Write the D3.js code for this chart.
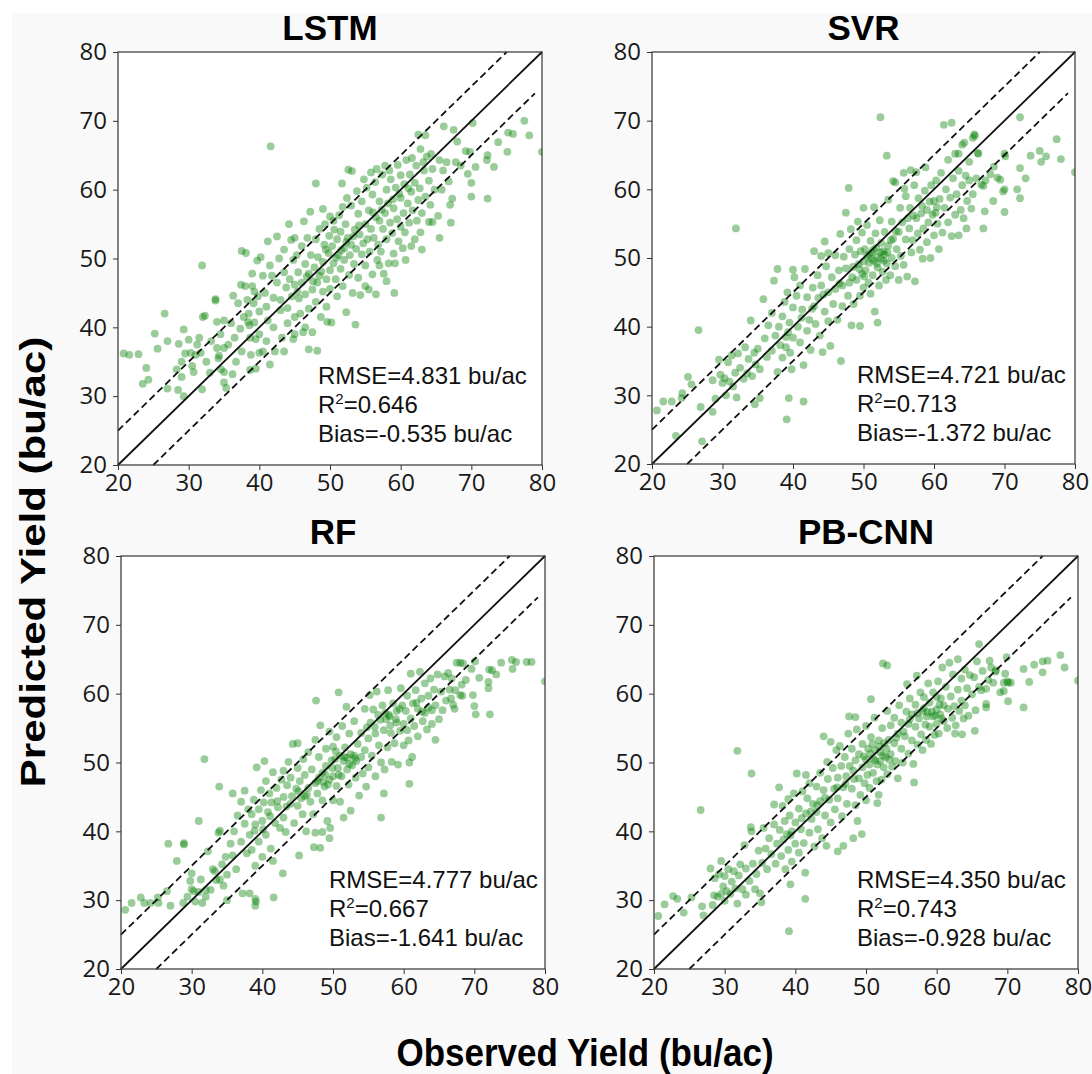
<!DOCTYPE html>
<html>
<head>
<meta charset="utf-8">
<script src="https://cdn.jsdelivr.net/npm/d3@7"></script>
<style>
body { margin: 0; background: #fff; }
</style>
</head>
<body>
<script>
var w = 1092;
var h = 1074;

// observed, predicted (bu/ac)
var lstmPoints = [
  [20.8,36.2],[21.6,36],[22.9,36.1],[24,34.1],[24.3,32.4],[23.5,31.8],[25.2,39.1],[25.6,36.9],[26.6,42],[27,38],[27,31.1],[28.5,30.9],[29.3,30],[28.3,33.9],[28.6,37.6],[29.3,39.7],[29.5,36.2],[29,35],[30,38.2],[30.3,36.3],[30.7,33.5],[31,36],[30.5,34.4],[29,32.8],[31.9,49],[31.9,31],
  [31.2,37.5],[31.5,38.5],[31.7,36.3],[32,41.5],[32.3,41.7],[32.5,35],[33,33.4],[33.2,38],[33.8,44.1],[33.8,43.9],[34,40.8],[34,37],[34.2,35.5],[34.3,35.9],[34.5,39],[35,41],[35,37],[35,33.5],[35,32],[35.3,31.2],[35.6,37.5],[34.6,33.9],
  [36,40.6],[36.5,38.5],[36.7,35],[37,43.5],[37.3,39.8],[37.5,51.1],[37.8,41.5],[38,46],[38.3,44],[38.5,42],[38.6,40.3],[38.7,38.5],[38.8,36],[39,47.8],[39,46],[39.2,43.5],[39.3,40.7],[39.5,38.3],[39.5,34],[39.8,44.5],[40,42.3],[40,39],[40,36.3],[39.3,45.2],[38.4,40.8],[37.5,36.5],
  [40.2,50.2],[40.5,47.5],[40.8,45],[41,43],[41,38],[41.2,41],[41.5,49],[41.6,66.3],[41.8,47.5],[42,44.3],[42,40],[42.2,36.5],[42.5,46.5],[42.8,50],[43,42.5],[43,44],[43.2,38.5],[43.5,48],[43.5,51.3],[43.5,36.5],[43.8,45.8],[44,40.6],[44,42.8],[44.3,47],[44.5,52.7],[44.6,44.5],[44.8,49.8],[45,53],[45,46.2],[45,41.5],[45,39],
  [45.3,50.5],[45.5,48],[45.6,44.2],[45.8,42],[46,51.8],[46,46.5],[46.2,39.3],[46.5,49.2],[46.5,44.8],[46.8,53],[47,47.8],[47,42.7],[47.3,50.5],[47.5,45.5],[47.5,39.3],[47.8,48.7],[48,52.8],[48,43.7],[48,60.9],[48.2,36.6],[48.2,46.5],[48.3,50.2],[48.5,54.3],[48.5,47.5],[48.7,41.5],[49,49.5],[49,45.2],[49.2,52],[49.3,55],[49.5,47],[49.5,43],[49.6,40.8],[49.8,50.8],[49.9,53.3],[50,48.3],[50,45.6],[50,56.1],[50.2,40.7],
  [50.3,51.8],[50.5,49.3],[50.6,54.2],[50.8,47],[51,52.8],[51,44.5],[51.2,50.5],[51.3,56.3],[51.5,48.5],[51.5,53.9],[51.7,60.9],[51.8,46],[52,51.5],[52,49.8],[52.2,55],[52.3,42.2],[52.5,53],[52.6,62.9],[52.7,47.6],[52.8,50.5],[53,52],[53,57.7],[53.1,62.7],[53.2,45],[53.4,49.2],[53.5,54.2],[53.6,40.4],[53.7,51.4],[54,47.2],[54,56.5],[54.2,53.5],[54.3,44.7],[54.5,50.6],[54.5,58.3],[54.7,52.2],[55,49],[55,55],[55,46],[55.2,60.3],[55.3,52.8],
  [55.5,57],[55.6,51],[55.8,54.3],[56,47.7],[56,59.3],[56.2,53],[56.4,61.1],[56.5,56],[56.7,49.8],[56.8,52],[57,55.5],[57,58.3],[57.2,51],[57.4,62.2],[57.5,54.3],[57.6,47.8],[57.8,56.6],[58,60],[58,52.8],[58.2,58],[58.3,49.3],[58.5,55.2],[58.6,61.5],[58.8,53.7],[59,57.3],[59,50.7],[59.1,45],[59.2,49.3],[59.3,60.3],[59.5,55.7],[59.7,52.5],[60,58.8],[60,62.1],[60,54.6],
  [60.3,51.5],[60.4,56.6],[60.5,60.8],[60.6,53.8],[60.8,64.3],[61,58],[61.2,55.2],[61.3,62.2],[61.5,59.7],[61.7,57],[62,52.8],[62,61],[62.2,63.5],[62.3,55.5],[62.5,58.5],[62.5,68],[62.7,60.2],[63,51.3],[63,56.6],[63.3,62.8],[63.5,59],[63.5,67.9],[63.7,64.8],[64,61.3],[64,55.3],[64.2,57.8],[64.5,63],[64.5,55.3],[64.8,60],
  [65.3,56.2],[65.5,53],[65.5,64.3],[65.8,60],[66,62.8],[66.1,69.2],[66.5,64],[66.8,61.2],[67.1,55.2],[67,57.8],[67.3,58.7],[67.5,68.7],[67.8,64],[68,67],[68.5,63.5],[69.2,65.6],[69.5,62.3],[69.8,65.5],[70,59],[70,61],[70.2,69.7],[70.6,63.3],
  [72.2,64.3],[72.3,65],[72.3,58.7],[73.2,63.3],[73.8,66.9],[75.1,65.5],[75.2,68.3],[75.9,68.1],[77.5,70],[78.2,67.9],[80,65.5],
  [50.5,55.5],[51.8,57.5],[52.4,58.8],[53.8,59.8],[54.8,61.5],[55.8,62.5],[56.6,63],[57.8,63.5],[58.4,62.8],[59.6,63.6],[61.6,64.6],[62.8,65.9],[63.2,64],[64.3,65.2],[55.5,45.5],[56.5,44.8],[57,49],[58,46.7],[60.7,49.8],[61.5,51.8],[62.8,53.8],[49,57.2],[47.2,56.8],[46.3,55.4],[44.2,55],[42.5,53.2],[41.2,52.5],[39.7,49.7],[37.4,46.2],[36.3,44.6],[38.1,50.8],[40.5,36.5],[41.5,34.6],[38.7,33.8],[36.2,33.2],[44.8,38.3],[46.5,40],[47,36.8],
  [50.9,50.1],[51.6,51.2],[52.3,52.4],[53.3,53.2],[54.1,54.8],[56.1,56.7],[57.3,57.1],[58.9,58.6],[59.8,59.4],[61.1,60.2],[49.4,51.3],[48.8,48.1],[47.6,46.7],[46.7,47.4],[45.4,45.2]
];

var svrPoints = [
  [52.4,70.5],[31.9,54.3],[26.6,39.5],[27.1,23.3],[23.4,24.1],[20.7,27.8],[21.6,29.1],[22.8,29.1],[24.2,29.6],[24.3,30.3],[25.1,32.7],[25.6,31.6],[26.9,28.3],[28.6,27.6],[39.1,26.5],[39.4,29.6],[41.5,29.1],[35.3,29.6],[34.6,28.7],[47.9,60.2],[53.3,64.9],[46.8,35],[49.5,40.1],[52,40.6],[51.6,42.2],[61.4,69.4],[62.5,69.7],[72.2,70.5],[77.4,67.3],[78,64.4],[80,62.5],[75,65.6],[75.2,64],[75.9,64.8],[73.7,64.9],[72.2,63.1],[73,61.6],[71.8,60],[72.2,58.7],[70,56.7],[68.4,58.3],[70,60],[69.4,61.4],[70.1,64.8],[67,54.3],[67.2,56.8],[64.6,54.3],[54.2,61.2],[55.7,62.4],[56.7,62.8],[57.5,62.5],[58.8,63.2],[55.8,60.1],
  [28.6,32.2],[29,29.5],[29.5,35.2],[29.7,33],[30,31.8],[30.3,32.5],[30.5,30],[30.8,34.8],[31,32],[31.3,35.8],[31.5,31.3],[31.8,33.3],[32,29.7],[32.2,36.1],[32.5,34],[33,32.4],[33.2,37],[33.5,33.2],[33.7,35.3],[34,40.9],[34.2,32.8],[34.5,36.2],[34.7,34.5],[35,36.8],[35.3,33.8],
  [35.8,44],[36,38.3],[36.3,35.6],[36.5,40.2],[37,42],[37,36.5],[37.3,46.7],[37.5,38.7],[37.8,33.4],[37.8,48.4],[38,40],[38.2,37.3],[38.5,41.5],[38.5,35.5],[38.8,43.6],[39,38.5],[39,37],[39.2,45],[39.5,40.6],[39.6,36.2],[40,42.8],[40,38.4],[40,48.3],[40.2,47.2],[39.8,33.8],
  [40.5,44.5],[40.7,40],[41,46],[41,37.7],[41.3,42.5],[41.5,34.4],[41.7,48.4],[42,44.3],[42,39.4],[42.3,41],[42.5,36.6],[42.8,45.7],[43,51],[43,43],[43.2,40.4],[43.5,47.5],[43.6,44.2],[43.8,38.7],[44,50.3],[44,46],[44.2,36.3],[44.5,52.4],[44.5,42.2],[44.7,48.8],[45,45],[45,40.8],[45.3,37.2],[45,50.7],
  [45.5,47.2],[45.7,43.3],[46,50.4],[46,45.5],[46.3,41],[46.5,48.2],[46.7,53.5],[47,46],[47,43],[47.2,50.2],[47.5,56.6],[47.5,48.5],[47.8,44.5],[48,51.3],[48,46.4],[48.2,54.2],[48.3,40.2],[48.5,48.7],[48.6,43.3],[48.8,50.5],[49,52.6],[49,46.8],[49.2,55.3],[49.3,49.1],[49.5,44.5],[49.6,51],[49.8,47.7],[49.8,53.7],[50,49.5],[50,45.7],[50,57.3],
  [50.2,51.3],[50.3,48.2],[50.5,50.3],[50.5,54.8],[50.7,46.4],[50.8,49.3],[51,52.5],[51,44.8],[51.2,50.8],[51.3,47.5],[51.5,49.6],[51.5,57.4],[51.7,53.6],[51.8,51.5],[52,48.6],[52,50.2],[52.2,46],[52.3,55.5],[52.5,49.9],[52.5,52.2],[52.7,48],[52.8,51],[53,50.5],[53,53.8],[53.2,46.8],[53.3,49.2],[53.5,51.8],[53.5,58.5],[53.8,47.5],[54,50],[54,55.3],[54.2,52.8],[54.5,48.8],[54.5,61],[54.7,51.3],[55,53.8],[55,46.8],[55.2,57.3],[55.3,50.3],
  [55.5,55.2],[55.7,49],[56,52.7],[56,59],[56.2,47.3],[56.5,54.3],[56.6,57.3],[56.8,50.8],[57,52.6],[57.2,60.6],[57.3,46.6],[57.5,55.8],[57.7,53.6],[57.8,58.7],[58,51.2],[58.2,56.5],[58.4,49.9],[58.5,54.3],[58.7,59.8],[59,52.3],[59,57],[59.2,55.2],[59.5,50],[59.6,60.6],[59.8,56.3],[60,53.3],[60,58.3],[60.2,56.6],
  [60.3,61.3],[60.5,55],[60.7,51.3],[60.8,58.6],[61,62.4],[61.2,53.7],[61.5,57.3],[61.7,60],[62,55.2],[62,64.3],[62.3,58.8],[62.5,53.2],[62.7,61.6],[63,56.3],[63,65.2],[63.2,59.3],[63.5,53.3],[63.5,62.7],[63.8,57],[64,60.6],[64,66.5],[64.2,55.8],[64.5,62],[64.7,58.3],[65,61.3],[65,64],
  [65.3,57.2],[65.5,59.3],[65.8,67.8],[66,61.6],[66.3,65.2],[66.7,60.7],[67,60.5],[67.3,61.3],[68,62.2],[68.5,63.3],[69,61.7],[69.8,59.7],[70,65.2],
  [63.5,65.2],[64.3,66.8],[65.5,67.5],[66.2,65.3],[65.7,68],
  [50.8,50.5],[51.4,51.2],[51.9,49.2],[52.4,50.8],[52.9,49.6],[53.4,50.8],[50.1,47.3],[49.4,48.4],[53.9,52.6],[51.1,49.9],
  [58.3,57.6],[59.4,58.2],[60.4,57.4],[57.1,56.2],[56.3,55.8],[54.6,53.9],[48.4,47.2],[46.6,46.3],[44.3,44.7],[42.7,42.6],[41.2,41.3],[39.3,39.2]
];

var rfPoints = [
  [31.8,50.5],[20.6,28.6],[21.5,29.6],[22.8,30.4],[23.3,29.6],[24.2,29.6],[25.3,29.6],[25.2,30.4],[26.5,31.3],[27,29.2],[26.7,38.2],[28.9,38.1],[28.9,38.3],[27.9,35.7],[31,41.5],[33.9,46.5],[35.8,45.5],[47.6,59],[50.8,60.2],[51.9,58.1],[39.1,29.8],[39,29.2],[39,30.2],[41.6,30.4],[38.2,31],[42.9,33.9],[45.2,36.5],[47.3,37.7],[48.2,37.6],[47.5,39.8],[48.5,39.9],[49.6,40.5],[49.5,39],[56.8,42],[57.2,45.5],[60.8,46.9],[60.8,50],[61.2,50.8],[64.5,53.3],
  [80,61.8],[77.4,64.6],[78.1,64.6],[75.3,64.9],[75.4,63.6],[75.9,64.6],[73.8,64.5],[72.1,63.5],[72.5,63.4],[73.1,62.8],[72,61.7],[72,60.8],[72.2,57],[70.2,57],[70,58.2],[69.8,59.8],[70.1,64.7],[69.6,63.6],[70.7,62.3],[68,64.5],[68.4,64.4],[68,59.8],[68.3,59.7],[67.2,57.8],[66.7,59.3],
  [28.8,29.6],[29.4,30.5],[29.8,32.8],[30,33.9],[30,31.6],[30.3,31.3],[30.5,29.8],[31,31.2],[31.3,33],[31.5,29.6],[32,31.5],[32,30.5],[32.3,37.1],[32.7,31.5],[33,34.5],[33.3,34.2],[33.5,32.9],[33.8,39.8],[34,40.1],[34,33],[34.3,35.2],[34.5,32.1],[34.8,36.3],[35,33.7],[35,30],
  [35.5,38.2],[35.8,36.5],[36,40],[36.3,34.5],[36.5,42.3],[37,44.3],[37,38.5],[37.2,31],[37.5,45.9],[37.5,41.1],[37.8,36.8],[38,43.2],[38.2,39.5],[38.5,42.5],[38.5,37.3],[38.8,44.6],[39,41],[39,35],[39.2,49.3],[39.5,43.2],[39.5,38.5],[39.8,46],[40,41.5],[40,36.3],[40.2,44.2],
  [40.3,50.2],[40.5,39.5],[40.5,47.3],[40.8,42.8],[41,45.5],[41.2,37.5],[41.3,44.2],[41.5,35.7],[41.5,48.6],[41.8,41.2],[42,46.3],[42.2,43.5],[42.5,40.5],[42.7,47.5],[43,45],[43,48.8],[43,42],[43.3,39.9],[43.5,46.7],[43.7,50.1],[44,44],[44,47.8],[44.3,52.7],[44.5,41.2],[44.8,46.2],[45,52.8],[45,43.7],[45,49.2],
  [45.3,47.3],[45.5,44.8],[45.7,42.5],[45.8,50.5],[46,45.1],[46,48.2],[46.2,40],[46.5,46.3],[46.5,51.5],[46.8,44.3],[47,49],[47.2,42.5],[47.5,53.3],[47.5,47],[47.8,45.5],[48,50.8],[48,47.8],[48.2,55.4],[48.5,48.5],[48.5,44.5],[48.8,46.5],[49,52],[49,49.5],[49.2,41.5],[49.5,47.5],[49.5,54.5],[49.8,50.3],[50,48],[50,44.5],[50,52.3],
  [50.3,50.5],[50.5,46.6],[50.5,53.7],[50.7,49.2],[51,51],[51,44.3],[51.2,48],[51.3,55.3],[51.5,50.2],[51.5,42],[51.7,52.2],[52,49],[52,50.7],[52.2,46.8],[52.3,54.2],[52.5,51.2],[52.5,43],[52.7,49.6],[53,51],[53,56],[53.2,47.8],[53.3,50.2],[53.5,52.7],[53.7,45.2],[54,50.8],[54,54.3],[54.2,48.4],[54.5,57.8],[54.5,51.8],[54.7,46.5],[55,49.3],[55,53.5],[55.2,59.8],[55.3,55.8],
  [55.5,51],[55.7,57.7],[56,54.2],[56,48],[56.2,60.3],[56.5,52.5],[56.7,56.2],[56.8,50],[57,58.3],[57.2,54.7],[57.3,49],[57.5,56.3],[57.7,52.2],[57.8,60.5],[58,56.7],[58.2,54.3],[58.3,50.1],[58.5,58.6],[58.7,52.8],[59,55.8],[59,57.5],[59.2,49.7],[59.5,54.6],[59.6,60.8],[59.8,58.3],[60,55.6],[60,52.5],
  [60.3,57.5],[60.5,54.7],[60.5,59.7],[60.7,53.2],[61,56.4],[61,62.9],[61.3,58.6],[61.5,55.3],[61.7,60.5],[62,57.8],[62,53.8],[62.3,63.2],[62.5,59.3],[62.7,56],[63,61.5],[63,57.2],[63.3,54.8],[63.5,59.7],[63.5,58],[63.8,62.2],[64,57.6],[64,55.6],[64.3,60.6],[64.5,58.3],[64.8,62.8],[65,56.3],
  [65.3,60.3],[65.5,57.6],[65.8,62.5],[66,59],[66.3,63],[66.5,60.6],[66.8,62.2],[67,58.4],[67.3,60.5],[67.5,64.5],[68.2,61.3],[68.8,62],
  [48.6,47.2],[49.3,46.8],[49.9,49.2],[50.8,48.2],[51.6,50.8],[52.3,49.8],[53.1,50.6],[48.9,48.3],[50.4,51.6],[47.8,47.3],[57.4,57.2],[58.1,55.4],[58.9,56.3],[59.4,57.8],[57.9,56.9],
  [46.3,45.3],[45.1,45.8],[44.2,45.1],[43.4,43.6],[42.1,44.4],[41.1,42.2],[40.1,40.3],[38.9,40.1],[55.9,55.2],[56.4,56.9],[54.8,55.1],[61.8,58.7],[62.6,57.4]
];

var cnnPoints = [
  [31.8,51.7],[33.8,48.4],[26.6,43.1],[39.1,25.5],[39.3,32.3],[41.4,30.2],[41.4,34],[20.6,27.7],[21.5,29.4],[22.7,30.6],[23.3,30.2],[24.2,28.2],[25.3,30.4],[26.8,29.1],[27,27.8],[28.3,29.3],[28.5,30.7],[28,34.6],[29.5,35.7],
  [47.6,56.7],[48.5,56.6],[50.7,59.2],[52.4,64.4],[53,64.1],[56.8,47.1],[51.6,44.1],[51.8,45.3],[49.4,39.6],[48.2,39],[46.8,37.9],[46,37.1],[48.8,41.5],[44.4,37.9],
  [80,61.9],[77.5,65.6],[78.1,63.8],[75,64.7],[75.7,64.8],[75,63.1],[73.8,64.2],[72.3,63.6],[73.1,61.7],[72.3,58],[70.1,61.6],[70,61.8],[70.5,61.6],[70.1,58.9],[69.5,60.4],[69.7,62.9],[69.9,65.3],[67,58],[67,58.5],[65.4,54.6],[66,67.2],[68.3,63.2],[67.5,64.8],[63.6,54.1],[62.6,54.2],
  [28.6,33.2],[29,30.5],[29.2,33.8],[29.5,30.9],[29.8,32],[30,29.9],[30,33.5],[30.3,31.3],[30.5,34.5],[30.8,30.9],[31,32.7],[31.3,34.2],[31.5,31.7],[31.8,29.5],[32,33.6],[32.2,35.2],[32.5,31.6],[32.8,38],[33,34.6],[33,30.8],[33.5,32.8],[33.7,40.6],[33.8,40],[34,35.3],[34.3,31.6],[34.5,33.8],[34.8,37.2],[35,31],[35.2,29.7],[35.3,35.4],
  [35.5,40.5],[35.8,37.5],[36,34.5],[36.3,39],[36.6,36.7],[37,43.9],[37,41],[37.2,35.3],[37.4,38.2],[37.7,46.4],[37.8,40.2],[38,36.4],[38.2,43.7],[38.3,38.8],[38.5,41.5],[38.6,34.5],[38.8,39.6],[39,44.7],[39,37.3],[39.2,42.3],[39.5,40],[39.5,35.6],[39.8,45.5],[40,41.3],[40,38.2],
  [40.2,48.4],[40.5,43.3],[40.5,36.9],[40.8,40.3],[41,45.8],[41.2,38.3],[41.5,42.6],[41.5,48.2],[41.7,44.8],[42,39.8],[42,47],[42.3,41.8],[42.5,44],[42.7,37.8],[43,46.5],[43,42.8],[43.2,40.3],[43.5,48.5],[43.5,44.4],[43.8,39],[44,46],[44,53.8],[44.2,42.3],[44.5,50.1],[44.6,47.6],[44.8,44.6],[45,53],[45,41.3],
  [45.3,49.2],[45.5,46.2],[45.6,43.2],[45.8,51.8],[46,47.8],[46,44.8],[46.3,52.4],[46.5,49.5],[46.6,42.2],[46.8,46.4],[47,50.8],[47.2,48],[47.3,44],[47.5,54.2],[47.7,49.5],[48,46.2],[48,52],[48.2,48.8],[48.5,50.3],[48.5,43.8],[48.7,54.8],[49,47.7],[49,51.2],[49.2,45.3],[49.5,52.7],[49.5,49.3],[49.8,47],[50,50.4],[50,55.3],[50,44.5],
  [50.2,48.2],[50.3,52],[50.5,49.7],[50.5,46.3],[50.7,53.7],[51,50.6],[51,48.5],[51.2,56.5],[51.3,51.8],[51.5,47.3],[51.6,49.7],[51.8,53.2],[52,50.2],[52,51.5],[52.2,47.5],[52.3,55],[52.5,49.3],[52.6,52.8],[52.8,50.8],[53,57.5],[53,48.3],[53.2,53.3],[53.5,51.2],[53.5,55.4],[53.7,49.4],[54,52.8],[54,56.5],[54.2,50.2],[54.5,54.2],[54.5,47.7],[54.7,58.3],[55,52],[55,55.8],[55.2,50],
  [55.5,53.8],[55.7,57.4],[55.8,61.4],[56,51.3],[56,55.6],[56.2,59.3],[56.5,53.2],[56.5,57],[56.7,49.8],[57,55.2],[57,58.4],[57.2,62.6],[57.3,52.6],[57.5,56.4],[57.7,60.2],[57.8,54.1],[58,57.5],[58,51.8],[58.2,59.5],[58.4,55.5],[58.5,53.3],[58.7,57.3],[58.8,61.5],[59,55.2],[59,58.7],[59.2,52.7],[59.5,56.7],[59.5,60.2],[59.7,54],[60,57.7],[60,59.5],[60,55.6],
  [60.2,61.8],[60.3,54.2],[60.5,57],[60.6,59.3],[60.8,63.8],[61,56],[61,58.3],[61.3,61],[61.5,55],[61.6,57.8],[61.8,64.5],[62,59.6],[62.2,56.5],[62.3,62.8],[62.5,58.2],[62.7,55.4],[63,60.6],[63,65],[63.2,57.5],[63.5,62.2],[63.5,59],[63.8,56.4],[64,63.5],[64,58.3],[64.3,60.8],[64.5,56.8],[64.7,62.7],[65,59.9],
  [65.3,62.4],[65.5,57.6],[65.7,64.7],[66,61],[66.3,60.5],[66.5,63.3],[67,60.7],[67.3,62],[67.7,63.8],[68,61.6],[68.4,63.4],[69,60.2],[69.5,61.6],
  [50.6,51.3],[51.3,50.3],[51.9,52.3],[52.4,51],[52.9,52],[53.3,50.4],[50.9,52.7],[49.7,50.9],[58.6,56.7],[59.3,57.4],[59.8,56.8],[60.4,58.4],[58.2,57.9],[60.7,56.4],
  [54.3,53.6],[55.3,54.5],[56.2,56.3],[57.3,57.2],[48.3,47.6],[47.1,46.9],[45.9,46.4],[44.2,44.9],[43.1,43.8],[42.2,42.9],[40.9,41.9],[39.3,39.4]
];

var panelTitles = ["LSTM", "SVR", "RF", "PB-CNN"];
var rmseValues = ["4.831", "4.721", "4.777", "4.350"];
var r2Values = ["0.646", "0.713", "0.667", "0.743"];
var biasValues = ["-0.535", "-1.372", "-1.641", "-0.928"];
var tickValues = [20, 30, 40, 50, 60, 70, 80];
var oneToOne = [[20, 20], [80, 80]];
var upperBand = [[20, 25], [75, 80]];
var lowerBand = [[25, 20], [79, 74]];

var allPoints = [lstmPoints, svrPoints, rfPoints, cnnPoints];

// pixel boxes of the four plot areas
var boxes = [
    {x0: 118, x1: 542, y0: 52, y1: 465, tx: 200},
    {x0: 652, x1: 1075, y0: 52, y1: 464, tx: 205},
    {x0: 121, x1: 545, y0: 556, y1: 969, tx: 208},
    {x0: 654, x1: 1078, y0: 556, y1: 969, tx: 203}
];

var svg = d3.select("body")
    .append("svg")
    .attr("width", w)
    .attr("height", h);

svg.append("rect")
    .attr("x", 12).attr("y", 13)
    .attr("width", w - 12).attr("height", h - 13)
    .attr("fill", "#f9f9f9");

boxes.forEach(function(b, i){

    var x = d3.scaleLinear().domain([20, 80]).range([b.x0, b.x1]);
    var y = d3.scaleLinear().domain([20, 80]).range([b.y1, b.y0]);

    var g = svg.append("g");

    g.append("clipPath")
        .attr("id", "clip" + i)
        .append("rect")
        .attr("x", b.x0).attr("y", b.y0)
        .attr("width", b.x1 - b.x0).attr("height", b.y1 - b.y0);

    g.append("rect")
        .attr("x", b.x0).attr("y", b.y0)
        .attr("width", b.x1 - b.x0).attr("height", b.y1 - b.y0)
        .attr("fill", "#fff");

    g.append("g")
        .attr("clip-path", "url(#clip" + i + ")")
        .selectAll("circle")
        .data(allPoints[i])
        .enter()
        .append("circle")
        .attr("cx", function(d){ return x(d[0]); })
        .attr("cy", function(d){ return y(d[1]); })
        .attr("r", 3.9)
        .attr("fill", "#008000")
        .attr("fill-opacity", 0.4);

    var line = d3.line()
        .x(function(d){ return x(d[0]); })
        .y(function(d){ return y(d[1]); });

    g.append("path")
        .attr("d", line(oneToOne))
        .attr("stroke", "#111")
        .attr("stroke-width", 1.8)
        .attr("fill", "none");

    [upperBand, lowerBand].forEach(function(seg){
        g.append("path")
            .attr("d", line(seg))
            .attr("stroke", "#111")
            .attr("stroke-width", 1.8)
            .attr("stroke-dasharray", "7,4")
            .attr("fill", "none");
    });

    var yAxis = g.append("g")
        .attr("transform", "translate(" + b.x0 + ",0)")
        .call(d3.axisLeft(y).tickValues(tickValues).tickSize(5).tickPadding(6));

    var xAxis = g.append("g")
        .attr("transform", "translate(0," + b.y1 + ")")
        .call(d3.axisBottom(x).tickValues(tickValues).tickSize(5).tickPadding(4));

    [yAxis, xAxis].forEach(function(a){
        a.select(".domain").remove();
        a.selectAll("line").attr("stroke", "#333");
        a.selectAll("text")
            .attr("fill", "#1a1a1a")
            .style("font-family", "'Open Sans', 'DejaVu Sans', sans-serif")
            .style("font-size", "24px");
    });

    g.append("rect")
        .attr("x", b.x0).attr("y", b.y0)
        .attr("width", b.x1 - b.x0).attr("height", b.y1 - b.y0)
        .attr("fill", "none")
        .attr("stroke", "#333")
        .attr("stroke-width", 1.2);

    g.append("text")
        .attr("x", (b.x0 + b.x1) / 2)
        .attr("y", b.y0 - 12)
        .attr("text-anchor", "middle")
        .style("font-family", "'Liberation Sans', Arial, sans-serif")
        .style("font-weight", "bold")
        .style("font-size", "35px")
        .text(panelTitles[i]);

    var st = g.append("g")
        .attr("transform", "translate(" + (b.x0 + b.tx) + "," + b.y1 + ")")
        .style("font-family", "'Liberation Sans', Arial, sans-serif")
        .style("font-size", "24px")
        .attr("fill", "#111");

    st.append("text").attr("y", -81).text("RMSE=" + rmseValues[i] + " bu/ac");
    var r2 = st.append("text").attr("y", -52);
    r2.append("tspan").text("R");
    r2.append("tspan").attr("dy", -9).style("font-size", "15px").text("2");
    r2.append("tspan").attr("dy", 9).text("=" + r2Values[i]);
    st.append("text").attr("y", -23).text("Bias=" + biasValues[i] + " bu/ac");
});

svg.append("text")
    .attr("transform", "translate(45,562) scale(1,1.2) rotate(-90)")
    .attr("text-anchor", "middle")
    .style("font-family", "'Liberation Sans', Arial, sans-serif")
    .style("font-weight", "bold")
    .style("font-size", "35px")
    .text("Predicted Yield (bu/ac)");

svg.append("text")
    .attr("transform", "translate(585,1066) scale(1,1.12)")
    .attr("text-anchor", "middle")
    .style("font-family", "'Liberation Sans', Arial, sans-serif")
    .style("font-weight", "bold")
    .style("font-size", "35px")
    .text("Observed Yield (bu/ac)");
</script>
</body>
</html>
